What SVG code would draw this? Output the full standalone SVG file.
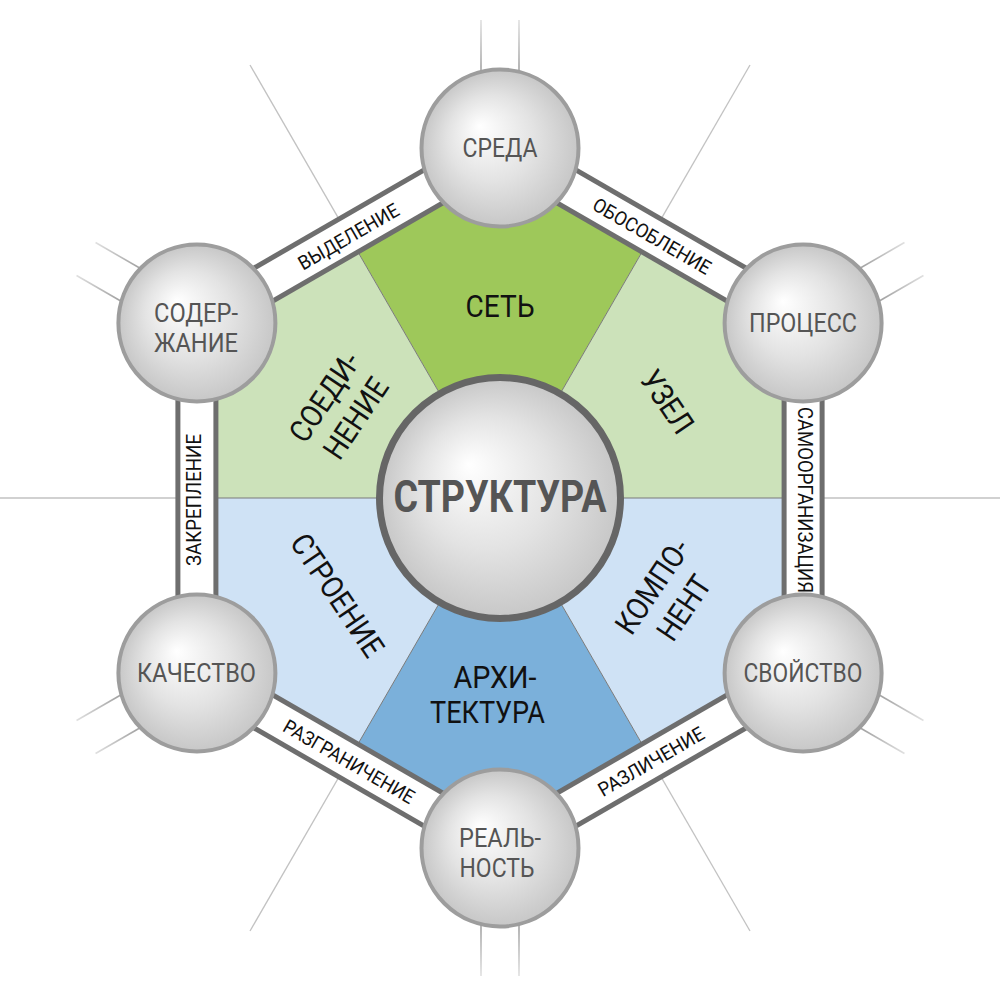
<svg xmlns="http://www.w3.org/2000/svg" width="1000" height="1000" viewBox="0 0 1000 1000">
<defs>
<radialGradient id="ball" cx="0.5" cy="0.5" r="0.5" fx="0.37" fy="0.36">
<stop offset="0" stop-color="#ffffff"/>
<stop offset="0.55" stop-color="#e3e3e3"/>
<stop offset="1" stop-color="#c7c7c7"/>
</radialGradient>
<linearGradient id="fade" gradientUnits="userSpaceOnUse" x1="0" y1="20" x2="0" y2="66">
<stop offset="0" stop-color="#a6a6a6" stop-opacity="0.35"/>
<stop offset="1" stop-color="#a6a6a6" stop-opacity="1"/>
</linearGradient>
</defs>
<style>
.ray{stroke:#c2c2c2;stroke-width:1.3;fill:none}
.whisk{stroke:url(#fade);stroke-width:1.6;fill:none}
.div{stroke:#7a7a7a;stroke-width:1}
.band-o{stroke:#6e6e6e;stroke-width:43}
.band-i{stroke:#ffffff;stroke-width:33}
.ball{fill:url(#ball);stroke:#9d9d9d;stroke-width:4}
.core{fill:url(#ball);stroke:#666666;stroke-width:7}
text{font-family:Roboto,"Liberation Sans",sans-serif}
.vl{font-size:25.5px;fill:#555555;text-anchor:middle}
.sl{font-size:31px;fill:#111111;text-anchor:middle}
.bl{font-size:19.5px;fill:#111111;text-anchor:middle}
.cl{font-size:45px;font-weight:bold;fill:#555555;text-anchor:middle}
</style>
<rect width="1000" height="1000" fill="#ffffff"/>

<g id="rays">
<line class="ray" x1="803" y1="498" x2="1000" y2="498"/>
<line class="ray" x1="803" y1="498" x2="1000" y2="498" transform="rotate(-60 500 498)"/>
<line class="ray" x1="803" y1="498" x2="1000" y2="498" transform="rotate(-120 500 498)"/>
<line class="ray" x1="803" y1="498" x2="1000" y2="498" transform="rotate(180 500 498)"/>
<line class="ray" x1="803" y1="498" x2="1000" y2="498" transform="rotate(120 500 498)"/>
<line class="ray" x1="803" y1="498" x2="1000" y2="498" transform="rotate(60 500 498)"/>
</g>

<g id="whiskers">
<g><line class="whisk" x1="481" y1="20" x2="481" y2="90"/><line class="whisk" x1="519" y1="20" x2="519" y2="90"/></g>
<g transform="rotate(60 500 498)"><line class="whisk" x1="481" y1="20" x2="481" y2="90"/><line class="whisk" x1="519" y1="20" x2="519" y2="90"/></g>
<g transform="rotate(120 500 498)"><line class="whisk" x1="481" y1="20" x2="481" y2="90"/><line class="whisk" x1="519" y1="20" x2="519" y2="90"/></g>
<g transform="rotate(180 500 498)"><line class="whisk" x1="481" y1="20" x2="481" y2="90"/><line class="whisk" x1="519" y1="20" x2="519" y2="90"/></g>
<g transform="rotate(240 500 498)"><line class="whisk" x1="481" y1="20" x2="481" y2="90"/><line class="whisk" x1="519" y1="20" x2="519" y2="90"/></g>
<g transform="rotate(300 500 498)"><line class="whisk" x1="481" y1="20" x2="481" y2="90"/><line class="whisk" x1="519" y1="20" x2="519" y2="90"/></g>
</g>

<g id="sectors">
<polygon id="sector-set" fill="#9ec85a" points="500,498 348.45,235.5 500,148 651.55,235.5"/>
<polygon id="sector-uzel" fill="#cce2ba" points="500,498 651.55,235.5 803.1,323 803.1,498"/>
<polygon id="sector-soedinenie" fill="#cce2ba" points="500,498 196.9,498 196.9,323 348.45,235.5"/>
<polygon id="sector-stroenie" fill="#cfe2f5" points="500,498 196.9,498 196.9,673 348.45,760.5"/>
<polygon id="sector-arkhitektura" fill="#7bb0da" points="500,498 348.45,760.5 500,848 651.55,760.5"/>
<polygon id="sector-komponent" fill="#cfe2f5" points="500,498 651.55,760.5 803.1,673 803.1,498"/>
<line class="div" x1="500" y1="498" x2="803.1" y2="498"/>
<line class="div" x1="500" y1="498" x2="196.9" y2="498"/>
<line class="div" x1="500" y1="498" x2="651.55" y2="235.5"/>
<line class="div" x1="500" y1="498" x2="348.45" y2="235.5"/>
<line class="div" x1="500" y1="498" x2="348.45" y2="760.5"/>
<line class="div" x1="500" y1="498" x2="651.55" y2="760.5"/>
</g>

<g id="sector-labels">
<text class="sl" x="500" y="317" textLength="69" lengthAdjust="spacingAndGlyphs">СЕТЬ</text>
<text class="sl" x="495" y="688" textLength="83" lengthAdjust="spacingAndGlyphs">АРХИ-</text>
<text class="sl" x="487.5" y="723" textLength="115" lengthAdjust="spacingAndGlyphs">ТЕКТУРА</text>
<g transform="translate(340,407.5) rotate(-56) scale(0.89,1)">
<text class="sl" x="0" y="-8">СОЕДИ-</text>
<text class="sl" x="0" y="30">НЕНИЕ</text>
</g>
<g transform="translate(668,597) rotate(-56) scale(0.89,1)">
<text class="sl" x="0" y="-8">КОМПО-</text>
<text class="sl" x="0" y="30">НЕНТ</text>
</g>
<g transform="translate(337.5,595) rotate(56) scale(0.89,1)">
<text class="sl" x="0" y="11">СТРОЕНИЕ</text>
</g>
<g transform="translate(667.5,401.7) rotate(56) scale(0.89,1)">
<text class="sl" x="0" y="11">УЗЕЛ</text>
</g>
</g>

<g id="connectors">
<g id="edge-sreda-process">
<line class="band-o" x1="500" y1="148" x2="803.1" y2="323"/>
<line class="band-i" x1="500" y1="148" x2="803.1" y2="323"/>
</g>
<g id="edge-process-svoistvo">
<line class="band-o" x1="803.1" y1="323" x2="803.1" y2="673"/>
<line class="band-i" x1="803.1" y1="323" x2="803.1" y2="673"/>
</g>
<g id="edge-svoistvo-realnost">
<line class="band-o" x1="803.1" y1="673" x2="500" y2="848"/>
<line class="band-i" x1="803.1" y1="673" x2="500" y2="848"/>
</g>
<g id="edge-realnost-kachestvo">
<line class="band-o" x1="500" y1="848" x2="196.9" y2="673"/>
<line class="band-i" x1="500" y1="848" x2="196.9" y2="673"/>
</g>
<g id="edge-kachestvo-soderzhanie">
<line class="band-o" x1="196.9" y1="673" x2="196.9" y2="323"/>
<line class="band-i" x1="196.9" y1="673" x2="196.9" y2="323"/>
</g>
<g id="edge-soderzhanie-sreda">
<line class="band-o" x1="196.9" y1="323" x2="500" y2="148"/>
<line class="band-i" x1="196.9" y1="323" x2="500" y2="148"/>
</g>
<g transform="translate(348.5,236.5) rotate(-30)"><text class="bl" x="0" y="7" textLength="113" lengthAdjust="spacingAndGlyphs">ВЫДЕЛЕНИЕ</text></g>
<g transform="translate(652,236) rotate(30)"><text class="bl" x="0" y="7" textLength="133" lengthAdjust="spacingAndGlyphs">ОБОСОБЛЕНИЕ</text></g>
<g transform="translate(805,500) rotate(90)"><text class="bl" x="0" y="7" textLength="186" lengthAdjust="spacingAndGlyphs">САМООРГАНИЗАЦИЯ</text></g>
<g transform="translate(193.5,500) rotate(-90)"><text class="bl" x="0" y="7" textLength="132" lengthAdjust="spacingAndGlyphs">ЗАКРЕПЛЕНИЕ</text></g>
<g transform="translate(349,761.5) rotate(30)"><text class="bl" x="0" y="7" textLength="148" lengthAdjust="spacingAndGlyphs">РАЗГРАНИЧЕНИЕ</text></g>
<g transform="translate(651,761.5) rotate(-30)"><text class="bl" x="0" y="7" textLength="119" lengthAdjust="spacingAndGlyphs">РАЗЛИЧЕНИЕ</text></g>
</g>

<g id="node-sreda">
<circle class="ball" cx="500" cy="148" r="78.5"/>
<text class="vl" x="500" y="157" textLength="75" lengthAdjust="spacingAndGlyphs">СРЕДА</text>
</g>
<g id="node-process">
<circle class="ball" cx="803.1" cy="323" r="78.5"/>
<text class="vl" x="803" y="332" textLength="108" lengthAdjust="spacingAndGlyphs">ПРОЦЕСС</text>
</g>
<g id="node-svoistvo">
<circle class="ball" cx="803.1" cy="673" r="78.5"/>
<text class="vl" x="803" y="682" textLength="119" lengthAdjust="spacingAndGlyphs">СВОЙСТВО</text>
</g>
<g id="node-realnost">
<circle class="ball" cx="500" cy="848" r="78.5"/>
<text class="vl" x="500" y="847" textLength="82" lengthAdjust="spacingAndGlyphs">РЕАЛЬ-</text>
<text class="vl" x="497" y="877" textLength="75" lengthAdjust="spacingAndGlyphs">НОСТЬ</text>
</g>
<g id="node-kachestvo">
<circle class="ball" cx="196.9" cy="673" r="78.5"/>
<text class="vl" x="196.5" y="682" textLength="119" lengthAdjust="spacingAndGlyphs">КАЧЕСТВО</text>
</g>
<g id="node-soderzhanie">
<circle class="ball" cx="196.9" cy="323" r="78.5"/>
<text class="vl" x="196" y="322" textLength="84" lengthAdjust="spacingAndGlyphs">СОДЕР-</text>
<text class="vl" x="196" y="352" textLength="84" lengthAdjust="spacingAndGlyphs">ЖАНИЕ</text>
</g>
<g id="node-struktura">
<circle class="core" cx="500" cy="498" r="120.5"/>
<text class="cl" x="500" y="512" textLength="213" lengthAdjust="spacingAndGlyphs">СТРУКТУРА</text>
</g>
</svg>
